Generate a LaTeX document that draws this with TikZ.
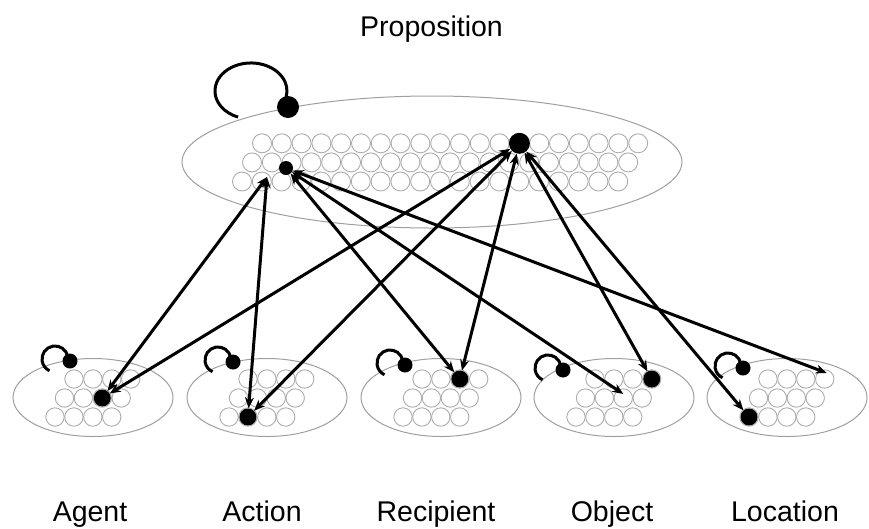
\documentclass[tikz,border=0pt]{standalone}
\usepackage{fontspec}
\setmainfont{Liberation Sans}
\usetikzlibrary{shapes.geometric,arrows.meta}
\begin{document}
\begin{tikzpicture}[x=1pt,y=1pt,
  ell/.style={ellipse, draw=gray!75, line width=1pt, inner sep=0},
  cell/.style={circle, draw=gray!65, line width=0.9pt, inner sep=0},
  unit/.style={circle, fill=black, inner sep=0},
  link/.style={black, line width=3pt, {Stealth[length=11pt,width=9pt]}-{Stealth[length=11pt,width=9pt]}},
  selfloop/.style={black, line width=3pt},
  lbl/.style={font=\fontsize{28.5}{34}\selectfont, anchor=base, inner sep=0}]
\useasboundingbox (0,0) rectangle (869,-528);

% Proposition layer
\node[lbl] (title) at (431.5,-36.5) {Proposition};
\node[ell, minimum width=500pt, minimum height=132pt] (P) at (432,-162) {};
\foreach \r/\x/\y in {1/262/-143.3, 2/252/-162.4, 3/242/-181.5}
  \foreach \i in {0,...,19}
    \node[cell, minimum size=19pt] (p-\r-\i) at ({\x+19.8*\i},\y) {};
\node[unit, minimum size=22pt] (pself) at (288,-107) {};
\draw[selfloop] (pself.center) ++(-4.4,4.2) arc[start angle=-25, end angle=249, x radius=36, y radius=28];
\node[unit, minimum size=21pt] (B) at (p-1-13) {};
\node[unit, minimum size=14pt] (A1) at (286,-168) {};
\coordinate (A2) at (267,-177);

% role layers
\foreach \n/\cx/\dx/\dy/\lab/\lx in {agent/93/70/-361/Agent/90, action/267/233/-362/Action/262, recipient/441/405/-365/Recipient/436, object/614/563/-370/Object/612, location/787/743/-368/Location/785} {
  \node[ell, minimum width=160pt, minimum height=78pt] (e-\n) at (\cx,-397.5) {};
  \foreach \r/\o/\y in {1/-19/-379, 2/-28.5/-398, 3/-38/-417}
    \foreach \i in {0,...,3}
      \node[cell, minimum size=18.4pt] (\n-\r-\i) at ({\cx+\o+18.9*\i},\y) {};
  \node[unit, minimum size=15pt] (s-\n) at (\dx,\dy) {};
  \draw[selfloop] (s-\n.center) ++(-2.2,4.3) arc[start angle=10, end angle=245, radius=13];
  \node[lbl] (l-\n) at (\lx,-521) {\lab};
}

\node[unit, minimum size=17pt] (u-agent) at (agent-2-2) {};
\node[unit, minimum size=17pt] (u-action) at (action-3-1) {};
\node[unit, minimum size=17pt] (u-recipient) at (recipient-1-2) {};
\node[unit, minimum size=17pt] (u-object) at (object-1-3) {};
\node[unit, minimum size=17pt] (u-location) at (location-3-0) {};

% connections
\draw[link] (A2) -- (u-agent);
\draw[link] (A2) -- (u-action);
\draw[link] (A1) -- (u-recipient);
\draw[link] (A1) -- ([shift={(0,4)}]object-2-2.center);
\draw[link] (A1) -- ([shift={(2,6)}]location-1-3.center);
\draw[link] (B) -- (u-agent);
\draw[link] (B) -- (u-action);
\draw[link] (B) -- (u-recipient);
\draw[link] (B) -- (u-object);
\draw[link] (B) -- (u-location);
\end{tikzpicture}
\end{document}
